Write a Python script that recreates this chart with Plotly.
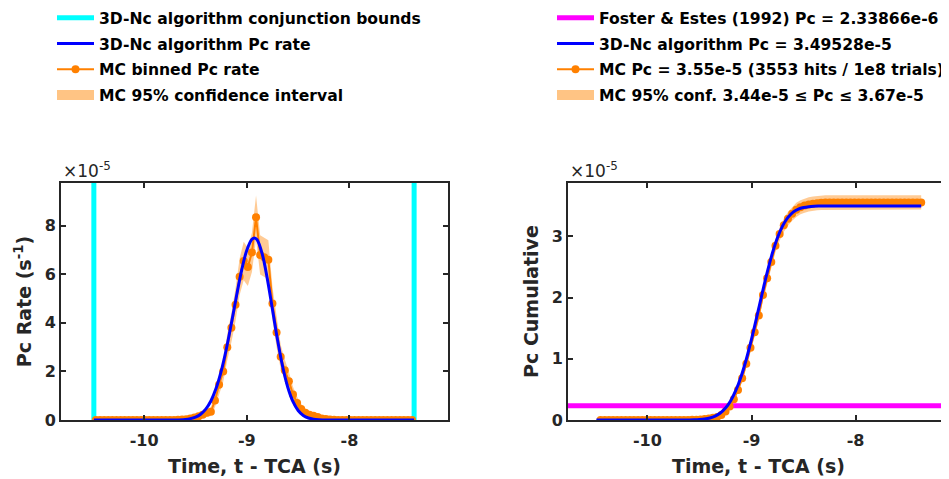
import numpy as np
import plotly.graph_objects as go

# ---------------- data (Pc values expressed in units of 1e-5) ----------------
conj_bounds = [-10.49, -7.37]          # 3D-Nc conjunction time bounds (s)
fe_pc = 0.233866                       # Foster & Estes (1992) Pc = 2.33866e-6

# 3D-Nc algorithm curves
nc_t = [-10.49, -9.8, -9.7, -9.6, -9.55, -9.5, -9.45, -9.4, -9.35, -9.3, -9.25, -9.2,
        -9.15, -9.1, -9.05, -9.0, -8.95, -8.925, -8.9, -8.85, -8.8, -8.75, -8.7, -8.65,
        -8.6, -8.55, -8.5, -8.45, -8.4, -8.35, -8.3, -8.2, -8.1, -7.37]
nc_rate = [0.0, 0.0005, 0.004, 0.025, 0.057, 0.120, 0.239, 0.447, 0.785, 1.293, 2.003, 2.915,
           3.983, 5.114, 6.171, 6.991, 7.442, 7.5, 7.424, 6.842, 5.811, 4.549, 3.282, 2.182,
           1.337, 0.755, 0.393, 0.188, 0.083, 0.034, 0.013, 0.0014, 0.0, 0.0]
nc_cum = [0.0, 0.0, 0.0002, 0.0014, 0.0033, 0.0075, 0.0162, 0.0327, 0.0627, 0.1134, 0.1944, 0.3156,
          0.4862, 0.7115, 0.9923, 1.3198, 1.680, 1.8655, 2.051, 2.407, 2.722, 2.980, 3.174, 3.308,
          3.395, 3.445, 3.470, 3.484, 3.4905, 3.493, 3.494, 3.495, 3.495, 3.495]

# Monte Carlo: 78 bins of 0.04 s spanning the conjunction bounds
mc_bin_width = 0.04
mc_nbins = 78
mc_t = np.round(conj_bounds[0] + mc_bin_width * (np.arange(mc_nbins) + 0.5), 3)   # bin centres
mc_edge = np.round(conj_bounds[0] + mc_bin_width * (np.arange(mc_nbins) + 1.0), 3)  # bin ends

mc_rate = [0.0] * 20 + [
    0.01, 0.02, 0.03, 0.06, 0.10, 0.15, 0.22, 0.30, 0.34, 0.80, 1.45, 2.00, 3.00,
    3.80, 4.75, 5.90, 6.55, 6.30, 6.90, 8.35, 6.80, 6.70, 6.60, 4.80, 3.60, 2.60,
    2.05, 1.60, 1.05, 0.70, 0.45, 0.30, 0.22, 0.18, 0.12, 0.06, 0.04, 0.02, 0.01] + [0.0] * 19
mc_rate_lo = [0.0] * 20 + [
    0, 0, 0, 0, 0, 0.03, 0.08, 0.13, 0.16, 0.52, 1.08, 1.56, 2.46,
    3.20, 4.07, 5.15, 5.76, 5.52, 6.09, 7.45, 5.99, 5.90, 5.80, 4.12, 3.01, 2.10,
    1.61, 1.21, 0.73, 0.44, 0.24, 0.13, 0.08, 0.05, 0.01, 0, 0, 0, 0] + [0.0] * 19
mc_rate_hi = [0.0] * 20 + [
    0.04, 0.06, 0.08, 0.14, 0.20, 0.27, 0.37, 0.47, 0.52, 1.08, 1.82, 2.44, 3.54,
    4.40, 5.43, 6.65, 7.34, 7.08, 7.71, 9.25, 7.61, 7.50, 7.40, 5.48, 4.19, 3.10,
    2.49, 1.99, 1.37, 0.96, 0.66, 0.47, 0.37, 0.31, 0.23, 0.14, 0.10, 0.06, 0.04] + [0.0] * 19

mc_cum = [0.0] * 20 + [
    0.0004, 0.0012, 0.0024, 0.0048, 0.0088, 0.0148, 0.0236, 0.0356, 0.0492, 0.0812, 0.1392,
    0.2192, 0.3392, 0.4912, 0.6812, 0.9172, 1.1792, 1.4312, 1.7072, 2.0412, 2.3132, 2.5812,
    2.8452, 3.0372, 3.1812, 3.2852, 3.3672, 3.4312, 3.4732, 3.5012, 3.5192, 3.5312, 3.5400,
    3.5472, 3.5510, 3.553, 3.553, 3.553, 3.553] + [3.553] * 19
mc_cum_lo = [0.0] * 20 + [
    0, 0, 0, 0.0005, 0.003, 0.0073, 0.0141, 0.0239, 0.0354, 0.0635, 0.1161,
    0.190, 0.303, 0.448, 0.630, 0.858, 1.112, 1.357, 1.626, 1.953, 2.219, 2.482,
    2.741, 2.929, 3.071, 3.173, 3.253, 3.316, 3.358, 3.385, 3.403, 3.415, 3.423,
    3.430, 3.434, 3.436, 3.436, 3.436, 3.436] + [3.436] * 19
mc_cum_hi = [0.0] * 20 + [
    0.0016, 0.0033, 0.0054, 0.0091, 0.0146, 0.0223, 0.0331, 0.0473, 0.063, 0.0989, 0.1623,
    0.248, 0.375, 0.535, 0.732, 0.977, 1.247, 1.505, 1.788, 2.130, 2.408, 2.681,
    2.950, 3.145, 3.292, 3.398, 3.481, 3.546, 3.589, 3.617, 3.636, 3.648, 3.657,
    3.664, 3.668, 3.670, 3.670, 3.670, 3.670] + [3.670] * 19

left_xrange = [-10.81, -7.04]
left_yrange = [0, 9.76]
right_xrange = [-10.763, -7.103]
right_yrange = [0, 3.87]

x_ticks = [-10, -9, -8]
x_ticktext = ["-10", "-9", "-8"]
left_yticks = [0, 2, 4, 6, 8]
right_yticks = [0, 1, 2, 3]

# ---------------- styling ----------------
# the page body adds an 8px margin, so the figure is drawn 8px in from the window corner
OFF = 8
W, H = 949 - OFF, 479 - OFF
FONT = "DejaVu Sans"
INK = "#262626"
ORANGE = "#FF8000"
CI_FILL = "rgba(255,140,20,0.45)"
CI_SWATCH = "#FFC484"


def px_x(p):            # window pixel -> paper fraction (x)
    return (p - OFF) / W


def px_y(p):            # window pixel (from top) -> paper fraction (y)
    return (H - (p - OFF)) / H


fig = go.Figure()

# ---- left panel: Pc rate ----
fig.add_trace(go.Scatter(
    x=[conj_bounds[0], conj_bounds[0], None, conj_bounds[1], conj_bounds[1]],
    y=[left_yrange[0], left_yrange[1], None, left_yrange[0], left_yrange[1]],
    mode="lines", line=dict(color="#00FFFF", width=5),
    name="3D-Nc algorithm conjunction bounds", legend="legend", legendgroup="a1", legendrank=1,
    xaxis="x", yaxis="y", hoverinfo="skip"))
fig.add_trace(go.Scatter(
    x=list(mc_t) + list(mc_t[::-1]), y=mc_rate_hi + mc_rate_lo[::-1],
    fill="toself", fillcolor=CI_FILL, line=dict(width=0), mode="lines",
    showlegend=False, xaxis="x", yaxis="y", hoverinfo="skip"))
fig.add_trace(go.Scatter(
    x=mc_t, y=mc_rate, mode="lines+markers",
    line=dict(color=ORANGE, width=2), marker=dict(color=ORANGE, size=8),
    name="MC binned Pc rate", legend="legend", legendgroup="a3", legendrank=3,
    xaxis="x", yaxis="y"))
fig.add_trace(go.Scatter(
    x=nc_t, y=nc_rate, mode="lines", line=dict(color="#0000FF", width=3, shape="spline"),
    name="3D-Nc algorithm Pc rate", legend="legend", legendgroup="a2", legendrank=2,
    xaxis="x", yaxis="y"))
fig.add_trace(go.Scatter(
    x=[None], y=[None], mode="lines", line=dict(color=CI_SWATCH, width=20),
    name="MC 95% confidence interval", legend="legend", legendgroup="a4", legendrank=4,
    xaxis="x", yaxis="y"))

# ---- right panel: cumulative Pc ----
fig.add_trace(go.Scatter(
    x=right_xrange, y=[fe_pc, fe_pc], mode="lines", line=dict(color="#FF00FF", width=5),
    name="Foster & Estes (1992) Pc = 2.33866e-6", legend="legend2", legendgroup="b1", legendrank=1,
    xaxis="x2", yaxis="y2"))
fig.add_trace(go.Scatter(
    x=list(mc_edge) + list(mc_edge[::-1]), y=mc_cum_hi + mc_cum_lo[::-1],
    fill="toself", fillcolor=CI_FILL, line=dict(width=0), mode="lines",
    showlegend=False, xaxis="x2", yaxis="y2", hoverinfo="skip"))
fig.add_trace(go.Scatter(
    x=mc_edge, y=mc_cum, mode="lines+markers",
    line=dict(color=ORANGE, width=2), marker=dict(color=ORANGE, size=8),
    name="MC Pc = 3.55e-5 (3553 hits / 1e8 trials)", legend="legend2", legendgroup="b3", legendrank=3,
    xaxis="x2", yaxis="y2"))
fig.add_trace(go.Scatter(
    x=nc_t, y=nc_cum, mode="lines", line=dict(color="#0000FF", width=3, shape="spline"),
    name="3D-Nc algorithm Pc = 3.49528e-5", legend="legend2", legendgroup="b2", legendrank=2,
    xaxis="x2", yaxis="y2"))
fig.add_trace(go.Scatter(
    x=[None], y=[None], mode="lines", line=dict(color=CI_SWATCH, width=20),
    name="MC 95% conf. 3.44e-5 ≤ Pc ≤ 3.67e-5", legend="legend2", legendgroup="b4", legendrank=4,
    xaxis="x2", yaxis="y2"))

tickfont = dict(family=FONT, size=16, color=INK, weight="bold")
titlefont = dict(family=FONT, size=19, color=INK, weight="bold")
axis_common = dict(showline=True, linewidth=2, linecolor=INK, ticks="inside", ticklen=5,
                   tickwidth=2, tickcolor=INK, showgrid=False, zeroline=False,
                   tickfont=tickfont, automargin=False, fixedrange=True)

y_dom = [px_y(420), px_y(183)]
legend_common = dict(font=dict(family=FONT, size=15.6, color="#000000", weight="bold"),
                     bgcolor="rgba(0,0,0,0)", itemwidth=37, tracegroupgap=2.5,
                     xanchor="left", yanchor="top", y=1 + 7 / H,
                     itemclick=False, itemdoubleclick=False)

fig.update_layout(
    width=W, height=H, margin=dict(l=0, r=0, t=0, b=0, autoexpand=False),
    paper_bgcolor="white", plot_bgcolor="white",
    showlegend=True,
    xaxis=dict(domain=[px_x(61), px_x(448)], range=left_xrange, tickvals=x_ticks, ticktext=x_ticktext,
               mirror="ticks", anchor="y", ticklabelstandoff=5,
               title=dict(text="Time, t - TCA (s)", font=titlefont, standoff=10), **axis_common),
    yaxis=dict(domain=y_dom, range=left_yrange, tickvals=left_yticks, mirror="ticks", anchor="x",
               title=dict(text="Pc Rate (s<sup>-1</sup>)", font=titlefont, standoff=8), **axis_common),
    xaxis2=dict(domain=[px_x(568), 1.0], range=right_xrange, tickvals=x_ticks, ticktext=x_ticktext,
                mirror="ticks", anchor="y2", ticklabelstandoff=5,
                title=dict(text="Time, t - TCA (s)", font=titlefont, standoff=10), **axis_common),
    yaxis2=dict(domain=y_dom, range=right_yrange, tickvals=right_yticks, mirror=False, anchor="x2",
                title=dict(text="Pc Cumulative", font=titlefont, standoff=8), **axis_common),
    legend=dict(x=px_x(52), **legend_common),
    legend2=dict(x=px_x(552), **legend_common),
    annotations=[
        dict(text="×10<sup>-5</sup>", xref="paper", yref="paper", x=px_x(61), y=px_y(183),
             xanchor="left", yanchor="bottom", showarrow=False,
             font=dict(family=FONT, size=17, color=INK)),
        dict(text="×10<sup>-5</sup>", xref="paper", yref="paper", x=px_x(568), y=px_y(183),
             xanchor="left", yanchor="bottom", showarrow=False,
             font=dict(family=FONT, size=17, color=INK)),
    ],
)

fig.write_html("out.html")
